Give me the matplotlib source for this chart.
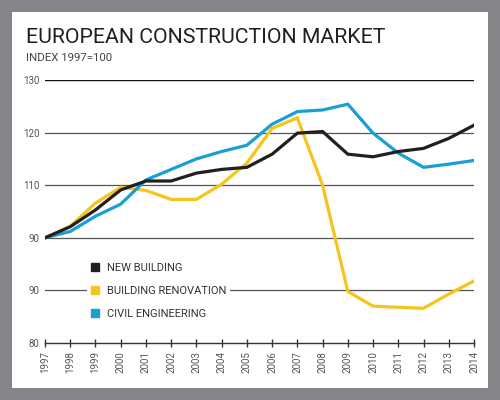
import matplotlib
matplotlib.use('Agg')
import matplotlib.pyplot as plt
from matplotlib.lines import Line2D
from matplotlib.patches import Rectangle

plt.rcParams['font.family'] = ['Roboto', 'DejaVu Sans']

years = list(range(1997, 2015))
new_building = [100, 102.1, 105.3, 109.1, 110.8, 110.8, 112.3, 113.0, 113.4, 115.9,
                119.9, 120.2, 115.9, 115.4, 116.4, 117.0, 118.9, 121.4]
renovation = [100, 102.2, 106.6, 109.6, 109.0, 107.3, 107.3, 110.2, 114.2, 120.8,
              122.8, 110.0, 89.8, 87.0, 86.8, 86.6, 89.3, 91.8]
civil = [100, 101.2, 104.1, 106.4, 111.0, 113.0, 115.0, 116.4, 117.6, 121.6,
         124.0, 124.3, 125.4, 119.9, 116.1, 113.4, 114.0, 114.7]
names = ['NEW BUILDING', 'BUILDING RENOVATION', 'CIVIL ENGINEERING']
colors = ['#231f20', '#f7c41b', '#1a9fd5']
yticks = [80, 90, 100, 110, 120, 130]
ylabels = ['80', '90', '90', '110', '120', '130']

fig = plt.figure(figsize=(5, 4), dpi=100)
fig.patch.set_facecolor('#858489')
# white card behind everything
fig.patches.append(Rectangle((12/500, 12/400), 476/500, 376/400, transform=fig.transFigure,
                             facecolor='white', edgecolor='none', zorder=-10))

fig.text(26/500, 1-43/400, 'EUROPEAN CONSTRUCTION MARKET', fontsize=15.3, color='#231f20')
fig.text(26/500, 1-61/400, 'INDEX 1997=100', fontsize=8.2, color='#444444')

ax = fig.add_axes([45/500, 1-343/400, 429/500, 263/400])
ax.set_facecolor('none')

# grid lines
for v in yticks[1:-1]:
    ax.axhline(v, color='#555555', lw=0.9, zorder=1)
ax.axhline(130, color='#111111', lw=1.0, zorder=1)

for vals, c in zip([renovation, civil, new_building], [colors[1], colors[2], colors[0]]):
    ax.plot(years, vals, color=c, lw=2.3, zorder=3, solid_joinstyle='miter')

ax.set_xlim(1997, 2014)
ax.set_ylim(80, 130)
ax.set_xticks(years)
ax.set_xticklabels([str(y) for y in years], rotation=90, fontsize=7, color='#555555')
ax.set_yticks(yticks)
ax.set_yticklabels(ylabels, fontsize=7, color='#555555')
ax.tick_params(axis='y', length=0, pad=4)
ax.tick_params(axis='x', direction='inout', length=6, width=1, color='#333333', pad=3)
for s in ['top', 'right', 'left']:
    ax.spines[s].set_visible(False)
ax.spines['bottom'].set_color('#333333')
ax.spines['bottom'].set_linewidth(1)
ax.spines['bottom'].set_zorder(4)

handles = [Line2D([], [], marker='s', ls='none', markersize=5.5, color=c) for c in colors]
leg = ax.legend(handles, names, loc='upper left', bbox_to_anchor=(0.099, 0.318),
                frameon=True, facecolor='white', edgecolor='none', framealpha=1,
                fontsize=8, labelcolor='#333333', handlelength=0.8, handletextpad=0.7,
                labelspacing=1.17, borderpad=0.3, borderaxespad=0)
leg.set_zorder(5)

fig.savefig('out.png', dpi=100, facecolor=fig.get_facecolor())
